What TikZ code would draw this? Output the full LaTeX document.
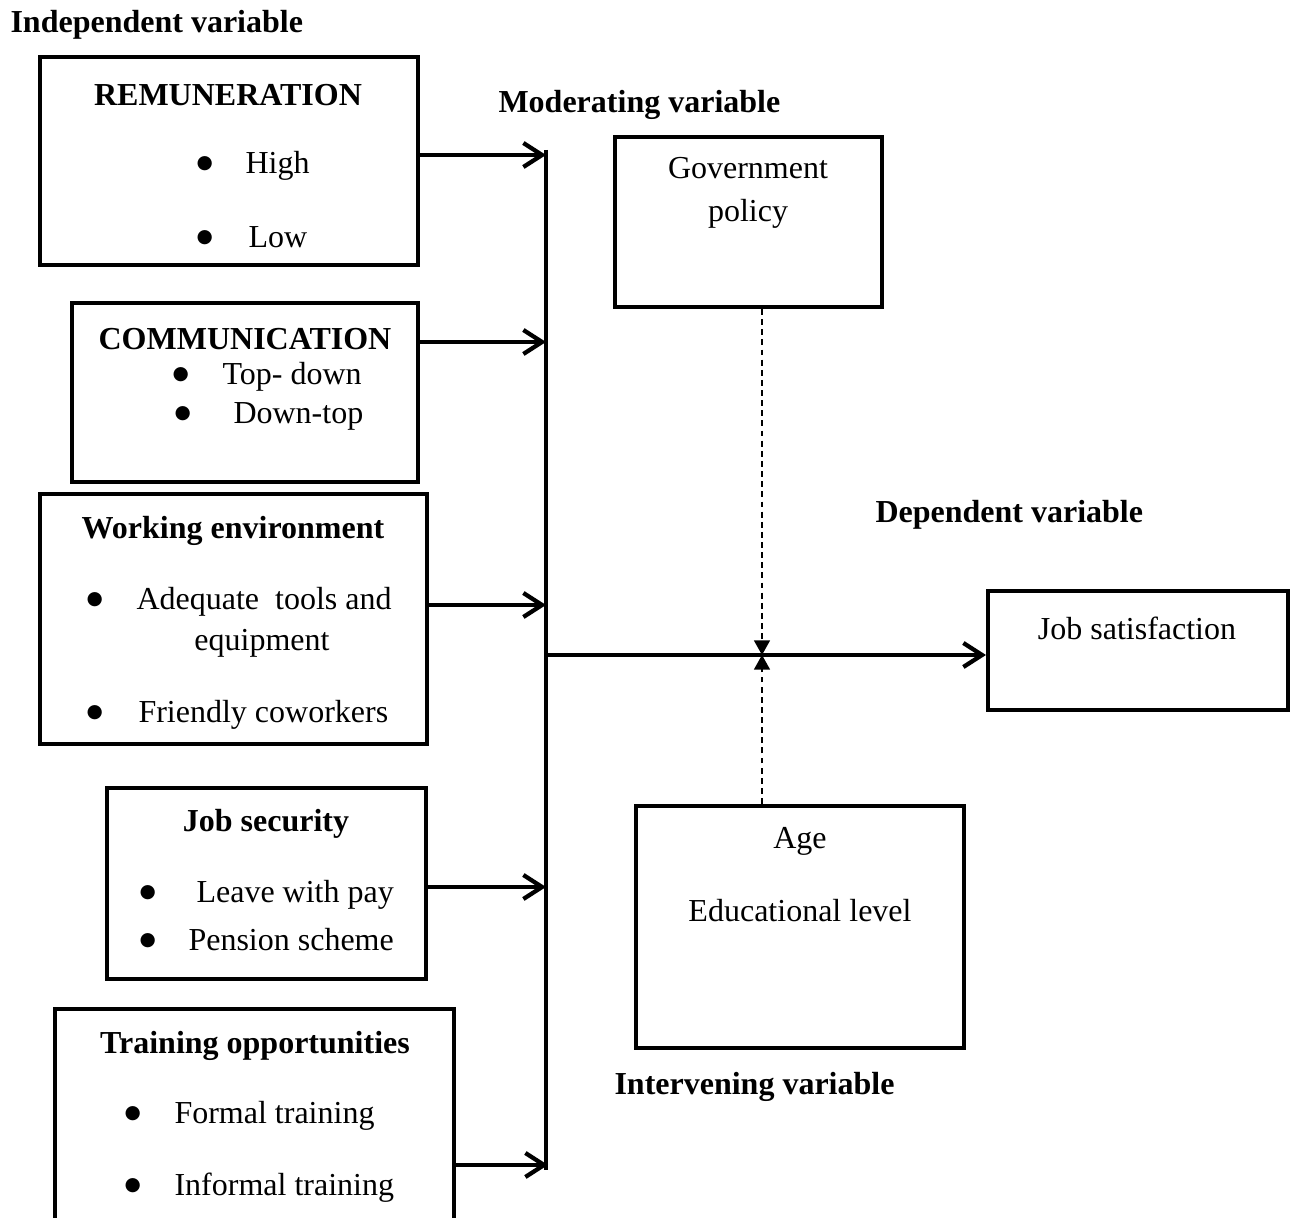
\documentclass[tikz,border=0pt]{standalone}
\usepackage{fontspec}
\setmainfont{Liberation Serif}
\newfontfamily\dotfont{DejaVu Sans}
\usetikzlibrary{arrows.meta,fit}
\newdimen\pxu \pxu=0.375pt
\newcommand{\bul}[2][46]{\makebox[#1\pxu][l]{\hspace*{-1.1pt}\raisebox{1.9pt}{\dotfont\fontsize{7}{8}\selectfont ●}}#2}
\begin{document}
\begin{tikzpicture}[
    x=0.375pt, y=-0.375pt,
    box/.style={draw, line width=1.5pt, inner sep=0pt},
    lbl/.style={inner sep=0pt, yshift=-1.1pt, font=\fontsize{12}{14}\selectfont},
    head/.style={inner sep=0pt, yshift=-1.1pt, font=\fontsize{12}{14}\selectfont\bfseries},
    item/.style={lbl, anchor=west},
    link/.style={line width=1.6pt, -{Straight Barb[length=7pt,width=9pt]}},
    bus/.style={line width=1.6pt},
    effect/.style={line width=0.6pt, dash pattern=on 2.2pt off 1.6pt, -{Triangle[length=5.5pt,width=6pt]}}
]
    \useasboundingbox (0,0) rectangle (1294,1218);

    % Headings
    \node[head, anchor=west] (indep) at (10,22) {Independent variable};
    \node[head, anchor=west] (moder) at (498,102) {Moderating variable};
    \node[head, anchor=west] (depen) at (875,512) {Dependent variable};
    \node[head, anchor=west] (inter) at (614,1084) {Intervening variable};

    % Independent variables
    \node[box, fit={(40,57) (418,265)}] (remu) {};
    \node[head] (remut) at (228,92) {REMUNERATION};
    \node[item] (high) at (199,163) {\bul{High}};
    \node[item] (low) at (199,234) {\bul[49]{Low}};

    \node[box, fit={(72,303) (418,482)}] (comm) {};
    \node[head] (commt) at (245,336) {COMMUNICATION};
    \node[item] (topd) at (175,374) {\bul[47]{Top- down}};
    \node[item] (downt) at (177,414) {\bul[56]{Down-top}};

    \node[box, fit={(40,494) (427,744)}] (work) {};
    \node[head] (workt) at (233,528) {Working environment};
    \node[item] (tools) at (89,599) {\bul[47]{Adequate\ \ tools and}};
    \node[lbl] (equip) at (262,640) {equipment};
    \node[item] (cowork) at (89,712) {\bul[49]{Friendly coworkers}};

    \node[box, fit={(107,788) (426,979)}] (secu) {};
    \node[head] (secut) at (266,821) {Job security};
    \node[item] (leave) at (142,892) {\bul[54]{Leave with pay}};
    \node[item] (pens) at (142,937) {\bul{Pension scheme}};

    \node[box, fit={(55,1009) (454,1230)}] (train) {};
    \node[head] (traint) at (255,1043) {Training opportunities};
    \node[item] (formal) at (127,1113) {\bul[47]{Formal training}};
    \node[item] (inform) at (127,1185) {\bul[47]{Informal training}};

    % Moderating, intervening and dependent variables
    \node[box, fit={(615,137) (882,307)}] (gov) {};
    \node[lbl, align=center] (govt) at (748,190) {Government\\[2pt]policy};

    \node[box, fit={(636,806) (964,1048)}] (age) {};
    \node[lbl] (aget) at (800,838) {Age};
    \node[lbl] (educ) at (800,908) {Educational level};

    \node[box, fit={(988,591) (1288,710)}] (job) {};
    \node[lbl] (jobt) at (1137,625) {Job satisfaction};

    % Bus points
    \coordinate (bustop) at (546,150);
    \coordinate (busbot) at (546,1170);
    \coordinate (b1) at (546,155);
    \coordinate (b2) at (546,342);
    \coordinate (b3) at (546,605);
    \coordinate (b4) at (546,887);
    \coordinate (b5) at (548,1165);
    \coordinate (bout) at (546,655);
    \coordinate (mid) at (762,655);

    % Connectors
    \draw[bus] (bustop) -- (busbot);
    \draw[link] (remu.east |- b1) -- (b1);
    \draw[link] (comm.east |- b2) -- (b2);
    \draw[link] (work.east |- b3) -- (b3);
    \draw[link] (secu.east |- b4) -- (b4);
    \draw[link] (train.east |- b5) -- (b5);
    \draw[link] (bout) -- (job.west |- bout);

    \draw[effect] (gov.south -| mid) -- (mid);
    \draw[effect] (age.north -| mid) -- (mid);
\end{tikzpicture}
\end{document}
